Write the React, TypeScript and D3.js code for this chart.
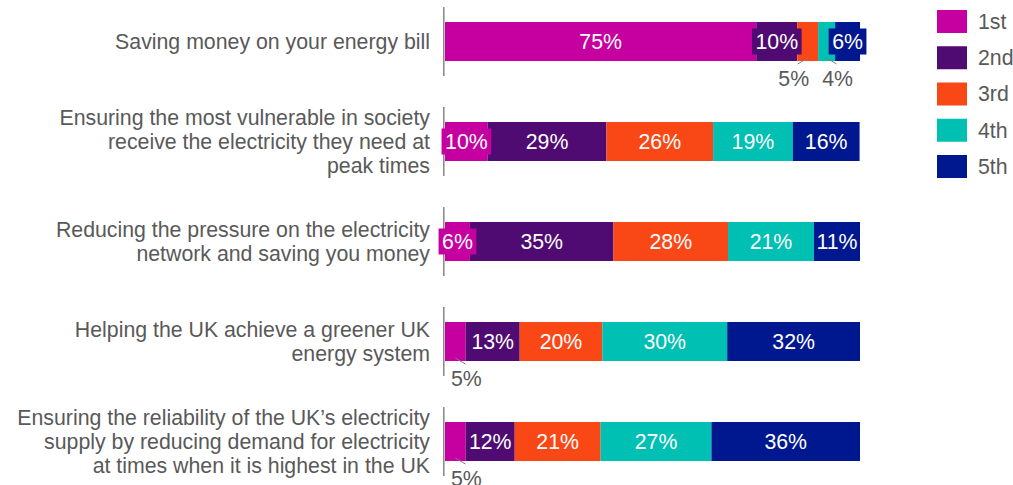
import React from "react";
import * as d3 from "d3";

const categories = [
  "Saving money on your energy bill",
  "Ensuring the most vulnerable in society\nreceive the electricity they need at\npeak times",
  "Reducing the pressure on the electricity\nnetwork and saving you money",
  "Helping the UK achieve a greener UK\nenergy system",
  "Ensuring the reliability of the UK\u2019s electricity\nsupply by reducing demand for electricity\nat times when it is highest in the UK",
];
const seriesNames = ["1st", "2nd", "3rd", "4th", "5th"];
const first = [75, 10.3, 6.0, 5.0, 5.0];
const second = [9.9, 28.6, 34.6, 13.0, 11.8];
const third = [5.0, 25.7, 27.6, 19.9, 20.7];
const fourth = [4.1, 19.2, 20.7, 30.1, 26.7];
const fifth = [6.0, 16.1, 11.1, 32.0, 35.8];
const colors = ["#C600A0", "#4F0B72", "#FA4716", "#00BFB3", "#00188F"];

const W = 1013;
const H = 485;
const FONT = "'Liberation Sans', Arial, sans-serif";
const FS = 21.3;
const GRAY = "#595959";

export default function App() {
  const series = [first, second, third, fourth, fifth];
  const rows = categories.map((c, i) => {
    const obj: any = { cat: c };
    seriesNames.forEach((s, j) => (obj[s] = series[j][i]));
    return obj;
  });
  const stacked = d3.stack<any>().keys(seriesNames)(rows);

  const x = d3.scaleLinear().domain([0, 100]).range([445, 860]);
  const y = d3.scalePoint<string>().domain(categories).range([41.5, 441.5]);
  const barH = 39;
  const axisX = 443.8;

  const textW = (s: string) => (s.length - 1) * 0.556 * FS + 0.889 * FS;

  const legendY = d3.scalePoint<string>().domain(seriesNames).range([21.5, 166.5]);

  return (
    <svg width={W} height={H} style={{ position: "absolute", left: 0, top: 0, background: "#fff" }} fontFamily={FONT}>
      {/* category labels */}
      {categories.map((c) => {
        const lines = c.split("\n");
        const lh = 24;
        const cy = y(c)!;
        return (
          <text key={c} textAnchor="end" fontSize={FS} fill={GRAY}>
            {lines.map((l, k) => (
              <tspan key={k} x={430} y={cy + (k - (lines.length - 1) / 2) * lh} dy="0.35em">
                {l}
              </tspan>
            ))}
          </text>
        );
      })}
      {/* axis segments */}
      {categories.map((c) => (
        <line key={"ax" + c} x1={axisX} x2={axisX} y1={y(c)! - 34.5} y2={y(c)! + 34.5} stroke="#868686" strokeWidth={1.5} />
      ))}
      {/* bars */}
      {stacked.map((s, j) => (
        <g key={s.key} fill={colors[j]}>
          {s.map((d, i) => (
            <rect key={i} x={x(d[0])} y={y(categories[i])! - barH / 2} width={x(d[1]) - x(d[0])} height={barH} />
          ))}
        </g>
      ))}
      {/* labels */}
      {stacked.map((s, j) => (
        <g key={"lab" + s.key}>
          {s.map((d, i) => {
            const v = d[1] - d[0];
            const label = Math.round(v) + "%";
            const cx = (x(d[0]) + x(d[1])) / 2;
            const cy = y(categories[i])!;
            const segW = x(d[1]) - x(d[0]);
            const tw = textW(label);
            if (v <= 5.05) {
              const next = stacked[j + 1] ? stacked[j + 1][i][1] - stacked[j + 1][i][0] : 100;
              const dir = next <= 5.05 ? -1 : 1;
              const bottom = cy + barH / 2;
              const lx = cx + (dir < 0 ? -14 : 11);
              return (
                <g key={i}>
                  <line x1={cx} y1={bottom - 3} x2={cx + dir * 10} y2={bottom + 3} stroke="#7f7f7f" strokeWidth={1} />
                  <text x={lx} y={bottom + 17.5} dy="0.35em" textAnchor="middle" fontSize={FS} fill={GRAY}>
                    {label}
                  </text>
                </g>
              );
            }
            const boxed = tw + 2 > segW;
            return (
              <g key={i}>
                {boxed && <rect x={cx - tw / 2 - 3.5} y={cy - 13} width={tw + 7} height={26} fill={colors[j]} />}
                <text x={cx} y={cy} dy="0.35em" textAnchor="middle" fontSize={FS} fill="#fff">
                  {label}
                </text>
              </g>
            );
          })}
        </g>
      ))}
      {/* legend */}
      {seriesNames.map((s, j) => (
        <g key={"lg" + s}>
          <rect x={937} y={legendY(s)! - 11.5} width={30} height={23} fill={colors[j]} />
          <text x={978} y={legendY(s)!} dy="0.35em" fontSize={FS} fill={GRAY}>
            {s}
          </text>
        </g>
      ))}
    </svg>
  );
}
